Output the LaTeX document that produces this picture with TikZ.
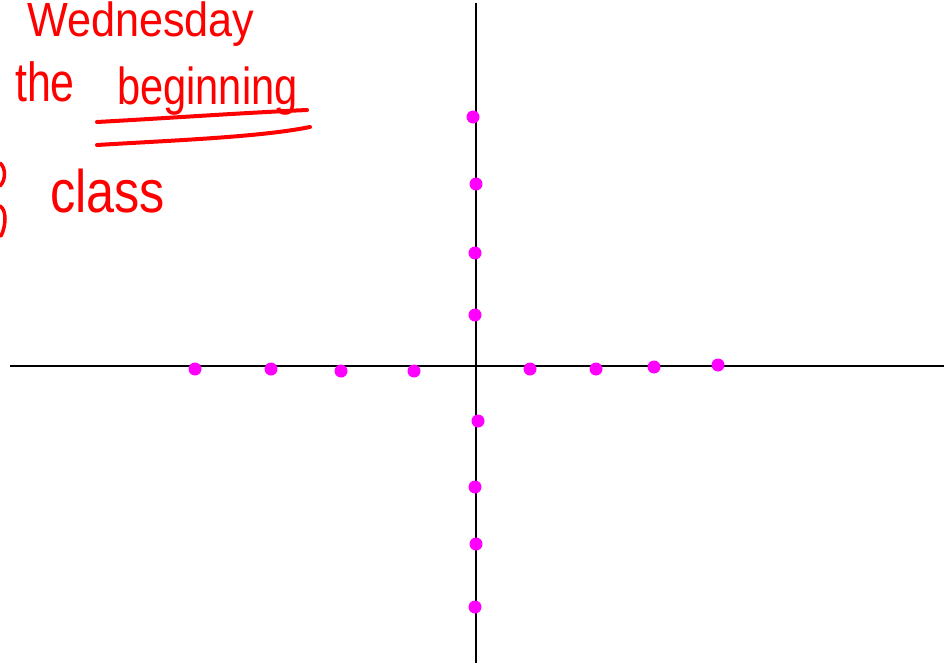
\documentclass[tikz,border=0pt]{standalone}
\usepackage{fontspec}
\setmainfont{Liberation Sans}
\definecolor{dotpink}{RGB}{255,0,255}
\definecolor{ink}{RGB}{255,0,0}
\begin{document}
\begin{tikzpicture}[x=1pt,y=-1pt,
  hand/.style={text=ink, inner sep=0pt, anchor=base west},
  uline/.style={draw=ink, line width=4pt, line cap=round},
  axis/.style={draw=black, line width=1.3pt},
  pt/.style={circle, fill=dotpink, inner sep=0pt, minimum size=13pt}]
\useasboundingbox (0,0) rectangle (944,666);
\clip (0,0) rectangle (944,666);
\fill[white] (0,0) rectangle (944,666);
% handwriting
\node[hand, font=\fontsize{48}{48}\selectfont, xscale=0.9] (wed) at (27,37) {Wednesday};
\node[hand, font=\fontsize{55}{55}\selectfont, xscale=0.78] (the) at (15,102) {the};
\node[hand, font=\fontsize{52}{52}\selectfont, xscale=0.8] (beg) at (117,105) {beginning};
\node[hand, font=\fontsize{60}{60}\selectfont, xscale=0.84] (cls) at (50,212) {class};
% partial letter cut by the left edge
\coordinate (f1) at (0,163); \coordinate (f2) at (0,186);
\coordinate (f3) at (0,206); \coordinate (f4) at (1,236);
\draw[uline, line width=3.5pt] (f1) .. controls (6,168) and (6,180) .. (f2);
\draw[uline, line width=3.5pt] (f3) .. controls (7,210) and (6,226) .. (f4);
% underlines
\coordinate (u1a) at (97,122); \coordinate (u1b) at (307,110);
\coordinate (u2a) at (97,145); \coordinate (u2b) at (310,127);
\draw[uline] (u1a) .. controls (170,118) and (240,113) .. (u1b);
\draw[uline] (u2a) .. controls (180,140) and (260,137) .. (u2b);
% axes
\coordinate (xl) at (10,366); \coordinate (xr) at (944,366);
\coordinate (yt) at (476,3); \coordinate (yb) at (476,663);
\draw[axis] (xl) -- (xr);
\draw[axis] (yt) -- (yb);
% points
\foreach \n/\x/\y in {v1/473/117, v2/476/184, v3/475/253, v4/475/315, v5/478/421, v6/475/487, v7/476/544, v8/475/607,
  h1/195/369, h2/271/369, h3/341/371, h4/414/371, h5/530/369, h6/596/369, h7/654/367, h8/718/365}
  \node[pt] (\n) at (\x,\y) {};
\end{tikzpicture}
\end{document}
